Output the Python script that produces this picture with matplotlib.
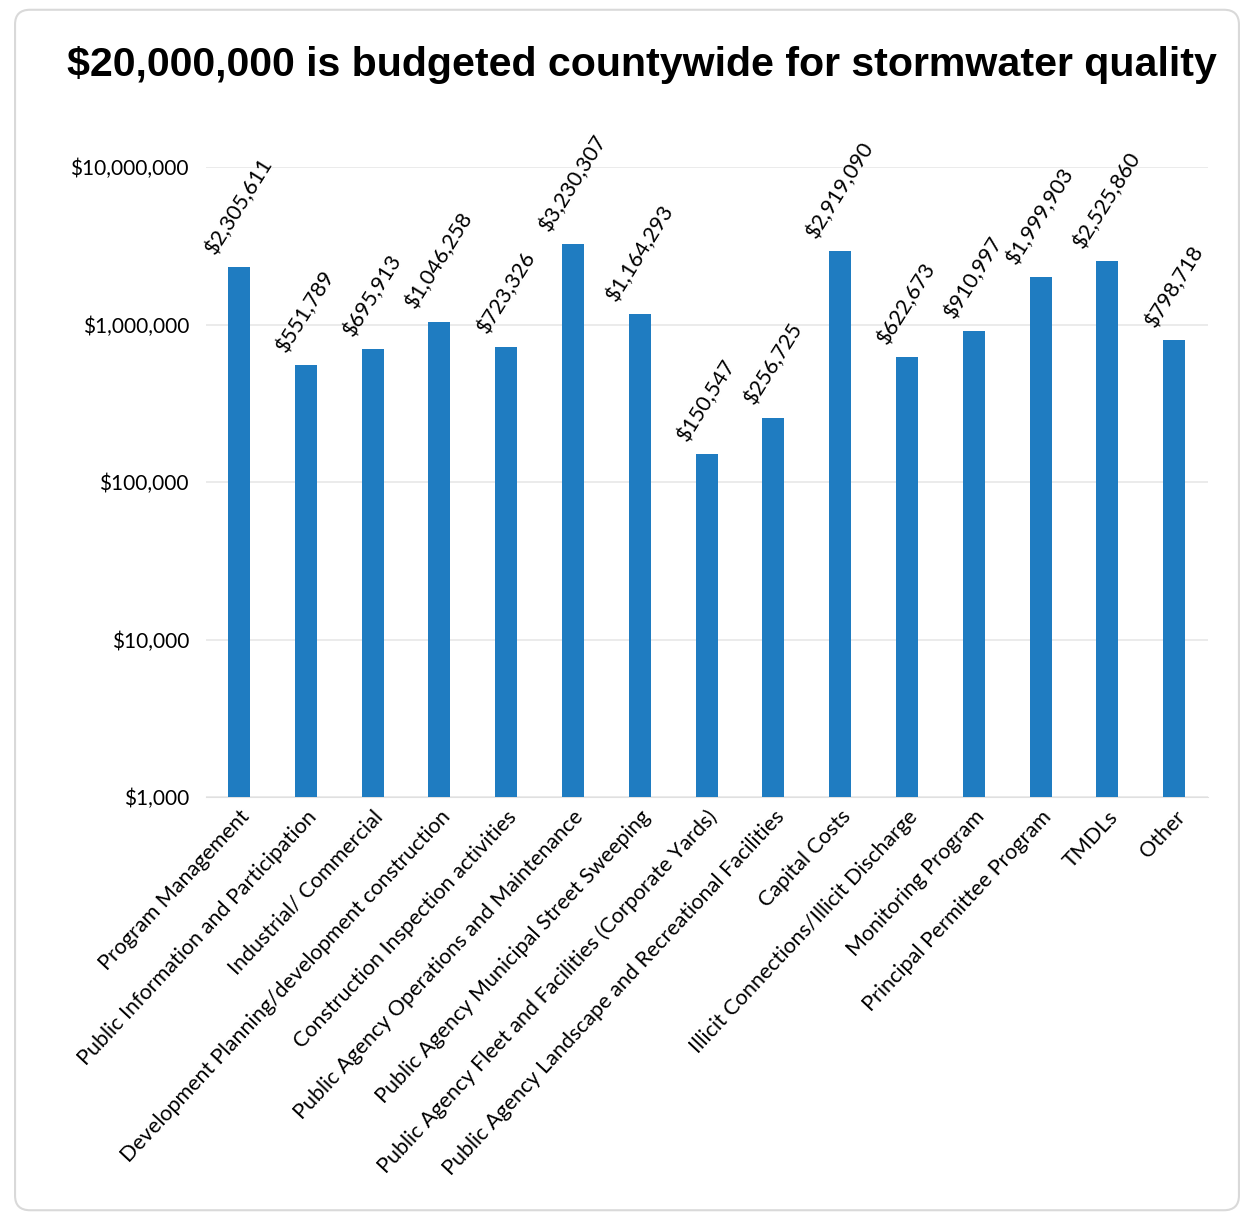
import matplotlib.pyplot as plt
from matplotlib.patches import FancyBboxPatch
from matplotlib.ticker import FixedLocator, NullLocator

categories = [
    "Program Management",
    "Public Information and Participation",
    "Industrial/ Commercial",
    "Development Planning/development construction",
    "Construction Inspection activities",
    "Public Agency Operations and Maintenance",
    "Public Agency Municipal Street Sweeping",
    "Public Agency Fleet and Facilities (Corporate Yards)",
    "Public Agency Landscape and Recreational Facilities",
    "Capital Costs",
    "Illicit Connections/Illicit Discharge",
    "Monitoring Program",
    "Principal Permittee Program",
    "TMDLs",
    "Other",
]
budgets = [2305611, 551789, 695913, 1046258, 723326, 3230307, 1164293,
           150547, 256725, 2919090, 622673, 910997, 1999903, 2525860, 798718]
ytick_values = [1000, 10000, 100000, 1000000, 10000000]
ytick_labels = ["$1,000", "$10,000", "$100,000", "$1,000,000", "$10,000,000"]

bar_color = "#1f7cc1"
label_font = "Lato"

fig = plt.figure(figsize=(12.54, 12.20), dpi=100)

# rounded frame around the whole chart
frame = FancyBboxPatch((0.012, 0.008), 0.976, 0.984,
                       boxstyle="round,pad=0,rounding_size=0.012",
                       transform=fig.transFigure, facecolor="white",
                       edgecolor="#d9d9d9", linewidth=1.5, zorder=-5)
fig.patches.append(frame)

ax = fig.add_axes([0.164, 0.3467, 0.799, 0.5163])
ax.set_facecolor("none")
ax.set_zorder(2)

x = list(range(len(categories)))
ax.bar(x, budgets, width=0.33, color=bar_color, zorder=3)

ax.set_yscale("log")
ax.set_ylim(1000, 10000000)
ax.set_xlim(-0.5, len(categories) - 0.5)
ax.yaxis.set_major_locator(FixedLocator(ytick_values))
ax.yaxis.set_minor_locator(NullLocator())
ax.set_yticklabels(ytick_labels, fontsize=15, family=label_font)
ax.grid(axis="y", color="#e8e8e8", linewidth=1.2, zorder=0)

ax.set_xticks(x)
ax.set_xticklabels(categories, rotation=47, ha="right", va="top",
                   rotation_mode="anchor", fontsize=15.5, family=label_font)
ax.tick_params(axis="both", length=0)
ax.tick_params(axis="y", pad=12)
ax.tick_params(axis="x", pad=7)

for side in ["top", "right", "left"]:
    ax.spines[side].set_visible(False)
ax.spines["bottom"].set_color("#e0e0e0")

for xi, val in zip(x, budgets):
    ax.annotate(f"${val:,}", xy=(xi, val), xytext=(0, 7),
                textcoords="offset points", ha="center", va="bottom",
                rotation=58, fontsize=15.5, family=label_font,
                annotation_clip=False)

fig.text(0.512, 0.947, "$20,000,000 is budgeted countywide for stormwater quality",
         ha="center", va="center", fontsize=29.6, fontweight="bold",
         family="Liberation Sans")

fig.savefig("out.png", dpi=100)
